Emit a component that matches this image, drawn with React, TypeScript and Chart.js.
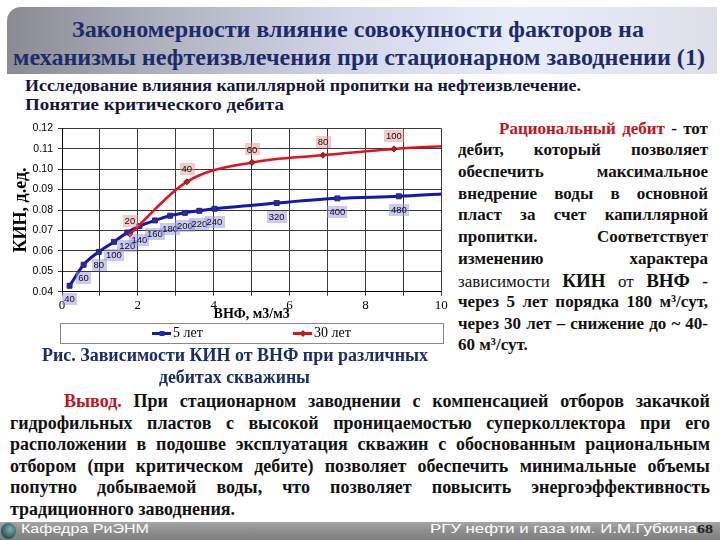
import React, { useEffect, useLayoutEffect, useRef } from 'react';
import { Chart, registerables } from 'chart.js';

Chart.register(...registerables);

// ---------------- data ----------------
const xTickLabels = ['0', '2', '4', '6', '8', '10'];
const yTickLabels = ['0.04', '0.05', '0.06', '0.07', '0.08', '0.09', '0.10', '0.11', '0.12'];

const series5Label = '5 лет';
const series5X = [0.2, 0.57, 0.97, 1.37, 1.72, 2.04, 2.45, 2.85, 3.24, 3.62, 4.02, 5.66, 7.26, 8.88, 10];
const series5Y = [0.0429, 0.0532, 0.0595, 0.0644, 0.069, 0.0721, 0.0749, 0.0772, 0.0786, 0.0796, 0.0806, 0.0834, 0.0857, 0.0867, 0.0878];
const series5Rates = ['40', '60', '80', '100', '120', '140', '160', '180', '200', '220', '240', '320', '400', '480', ''];

const series30Label = '30 лет';
const series30X = [1.79, 3.29, 5.01, 6.88, 8.75, 10];
const series30Y = [0.0682, 0.0938, 0.1033, 0.1068, 0.1099, 0.1112];
const series30Rates = ['20', '40', '60', '80', '100', ''];

const yAxisTitle = 'КИН, д.ед.';
const xAxisTitle = 'ВНФ, м3/м3';

const titleLines = [
  'Закономерности влияние совокупности факторов на',
  'механизмы нефтеизвлечения при стационарном заводнении (1)',
];
const subtitleLines = [
  'Исследование влияния капиллярной пропитки на нефтеизвлечение.',
  'Понятие критического дебита',
];
const captionLines = ['Рис. Зависимости КИН от ВНФ при различных', 'дебитах скважины'];

type Seg = { t: string; c?: string; b?: boolean; s?: number };
const RED = '#c2141c';

const rightLines: Seg[][] = [
  [{ t: 'Рациональный дебит', c: RED }, { t: '- тот' }],
  [{ t: 'дебит, который позволяет' }],
  [{ t: 'обеспечить максимальное' }],
  [{ t: 'внедрение воды в основной' }],
  [{ t: 'пласт за счет капиллярной' }],
  [{ t: 'пропитки. Соответствует' }],
  [{ t: 'изменению характера' }],
  [{ t: 'зависимости', b: false }, { t: 'КИН', s: 19 }, { t: 'от', b: false }, { t: 'ВНФ', s: 19 }, { t: '-' }],
  [{ t: 'через 5 лет порядка 180 м³/сут,' }],
  [{ t: 'через 30 лет – снижение до ~ 40-' }],
  [{ t: '60 м³/сут.' }],
];

const bottomLines: Seg[][] = [
  [{ t: 'Вывод.', c: RED }, { t: 'При стационарном заводнении с компенсацией отборов закачкой' }],
  [{ t: 'гидрофильных пластов с высокой проницаемостью суперколлектора при его' }],
  [{ t: 'расположении в подошве эксплуатация скважин с обоснованным рациональным' }],
  [{ t: 'отбором (при критическом дебите) позволяет обеспечить минимальные объемы' }],
  [{ t: 'попутно добываемой воды, что позволяет повысить энергоэффективность' }],
  [{ t: 'традиционного заводнения.' }],
];

const footerLeft = 'Кафедра РиЭНМ';
const footerRight = 'РГУ нефти и газа им. И.М.Губкина';
const pageNumber = '68';

// ---------------- styles ----------------
const SERIF = '"Liberation Serif", "Times New Roman", serif';
const SANS = '"Liberation Sans", Arial, sans-serif';
const NAVY = '#1c2b6b';
const BLUE = '#1616b0';
const REDLINE = '#e4101c';

function FitText(props: any) {
  const { x, y, w, size, weight = 'bold', color = '#000', family = SERIF, children } = props;
  const ref = useRef<HTMLDivElement>(null);
  useLayoutEffect(() => {
    const el = ref.current;
    if (!el) return;
    el.style.transform = 'none';
    const natural = el.getBoundingClientRect().width;
    if (natural > 0) el.style.transform = `scaleX(${w / natural})`;
  });
  return (
    <div
      ref={ref}
      style={{
        position: 'absolute', left: x, top: y, whiteSpace: 'nowrap', fontFamily: family,
        fontSize: size, fontWeight: weight, color, lineHeight: 1.2, transformOrigin: '0 0', width: 'max-content',
      }}
    >
      {children}
    </div>
  );
}

function JLine(props: any) {
  const { x, y, w, size, segs, justify = true } = props;
  const words: Seg[] = [];
  (segs as Seg[]).forEach((seg) =>
    seg.t.split(' ').filter(Boolean).forEach((t) => words.push({ ...seg, t }))
  );
  return (
    <div
      style={{
        position: 'absolute', left: x, top: y, width: w, display: 'flex', alignItems: 'baseline',
        justifyContent: justify ? 'space-between' : 'flex-start', columnGap: justify ? 0 : '0.25em',
        fontFamily: SERIF, fontSize: size, lineHeight: 1.2, whiteSpace: 'nowrap',
      }}
    >
      {words.map((wd, i) => (
        <span key={i} style={{ color: wd.c || '#111', fontWeight: wd.b === false ? 'normal' : 'bold', fontSize: wd.s || undefined }}>
          {wd.t}
        </span>
      ))}
    </div>
  );
}

const rateLabelSets = [series5Rates, series30Rates];
const rateLabelBg = ['rgba(150,150,230,0.5)', 'rgba(240,150,150,0.5)'];
const rateLabelDy = [13.5, -13];
const legendOffsets = [90, 231];
const legendShapes = ['rect', 'diamond'];

const rateLabelPlugin = {
  id: 'rateLabels',
  afterDatasetsDraw(chart: any) {
    const ctx = chart.ctx;
    ctx.save();
    ctx.font = `9.5px ${SANS}`;
    ctx.textAlign = 'center';
    ctx.textBaseline = 'middle';
    chart.data.datasets.forEach((_ds: any, i: number) => {
      const meta = chart.getDatasetMeta(i);
      const labels = rateLabelSets[i];
      meta.data.forEach((pt: any, j: number) => {
        const txt = labels[j];
        if (!txt) return;
        const cx = pt.x;
        const cy = pt.y + rateLabelDy[i];
        const tw = ctx.measureText(txt).width;
        ctx.fillStyle = rateLabelBg[i];
        ctx.fillRect(Math.round(cx - tw / 2 - 2), Math.round(cy - 6), Math.round(tw + 4), 12);
        ctx.fillStyle = '#111';
        ctx.fillText(txt, cx, cy + 0.5);
      });
    });
    ctx.restore();
  },
};

const legendBoxPlugin = {
  id: 'legendBox',
  afterDraw(chart: any) {
    const { ctx, chartArea: ca } = chart;
    const top = Math.round(ca.bottom + 31);
    const h = 20;
    const left = Math.round(ca.left - 2);
    const right = Math.round(ca.right + 1.7);
    ctx.save();
    ctx.strokeStyle = '#8a8a8a';
    ctx.lineWidth = 1;
    ctx.strokeRect(left + 0.5, top + 0.5, right - left, h);
    const cy = top + h / 2 + 0.5;
    chart.data.datasets.forEach((ds: any, i: number) => {
      const sx = ca.left + legendOffsets[i];
      ctx.strokeStyle = ds.borderColor;
      ctx.lineWidth = 3;
      ctx.beginPath();
      ctx.moveTo(sx, cy);
      ctx.lineTo(sx + 19, cy);
      ctx.stroke();
      const mx = sx + 10;
      ctx.fillStyle = ds.pointBackgroundColor;
      ctx.beginPath();
      if (legendShapes[i] === 'rect') ctx.rect(mx - 2.5, cy - 2.5, 5, 5);
      else {
        ctx.moveTo(mx, cy - 3.5); ctx.lineTo(mx + 3.5, cy); ctx.lineTo(mx, cy + 3.5); ctx.lineTo(mx - 3.5, cy); ctx.closePath();
      }
      ctx.fill();
      ctx.fillStyle = '#000';
      ctx.font = `14px ${SERIF}`;
      ctx.textAlign = 'left';
      ctx.textBaseline = 'middle';
      ctx.fillText(ds.label, sx + 21, cy);
    });
    ctx.restore();
  },
};

function KinChart() {
  const ref = useRef<HTMLCanvasElement>(null);
  useEffect(() => {
    if (!ref.current) return;
    const chart = new Chart(ref.current, {
      type: 'line',
      data: {
        datasets: [
          {
            label: series5Label,
            data: series5X.map((x, i) => ({ x, y: series5Y[i] })),
            borderColor: BLUE,
            borderWidth: 3,
            pointStyle: 'rect',
            pointRadius: series5X.map((_, i) => (series5Rates[i] ? 3.5 : 0)),
            pointBackgroundColor: '#2b2ba0',
            pointBorderColor: '#22228a',
            pointBorderWidth: 1,
            cubicInterpolationMode: 'monotone',
            order: 1,
          },
          {
            label: series30Label,
            data: series30X.map((x, i) => ({ x, y: series30Y[i] })),
            borderColor: REDLINE,
            borderWidth: 2.5,
            pointStyle: 'rectRot',
            pointRadius: series30X.map((_, i) => (series30Rates[i] ? 3 : 0)),
            pointBackgroundColor: '#b82020',
            pointBorderColor: '#8a1010',
            pointBorderWidth: 1,
            cubicInterpolationMode: 'monotone',
            order: 0,
          },
        ],
      },
      options: {
        responsive: false,
        animation: false,
        layout: { padding: { left: 0, top: 13.3, right: 8.7, bottom: 27.6 } },
        plugins: { legend: { display: false }, tooltip: { enabled: false } },
        scales: {
          x: {
            type: 'linear',
            min: 0,
            max: 10,
            afterFit: (s: any) => { s.height = 30.7; },
            ticks: {
              stepSize: 1,
              autoSkip: false,
              maxRotation: 0,
              padding: 2,
              color: '#000',
              font: { family: SERIF, size: 13 },
              callback: (v: any) => (xTickLabels.includes(String(v)) ? String(v) : ''),
            },
            grid: { color: '#3a3a3a', lineWidth: 1, tickLength: 4 },
            border: { color: '#000', width: 1 },
            title: { display: true, text: xAxisTitle, color: '#000', padding: 0, font: { family: SERIF, size: 14, weight: 'bold' } },
          },
          y: {
            type: 'linear',
            min: 0.04,
            max: 0.12,
            afterFit: (s: any) => { s.width = 62; },
            ticks: {
              stepSize: 0.01,
              padding: 5,
              color: '#000',
              font: { family: SANS, size: 10.5 },
              callback: (_v: any, i: number) => yTickLabels[i],
            },
            grid: { color: '#3a3a3a', lineWidth: 1, tickLength: 4 },
            border: { color: '#000', width: 1 },
            title: { display: true, text: yAxisTitle, color: '#000', padding: { top: 11, bottom: 0 }, font: { family: SERIF, size: 18, weight: 'bold' } },
          },
        },
      },
      plugins: [rateLabelPlugin, legendBoxPlugin],
    } as any);
    return () => chart.destroy();
  }, []);
  return <canvas ref={ref} width={450} height={235} style={{ position: 'absolute', left: 0, top: 115, width: 450, height: 235 }} />;
}

export default function App() {
  return (
    <div style={{ position: 'fixed', left: 0, top: 0, width: 720, height: 540, background: '#fff', overflow: 'hidden' }}>
      <div
        style={{
          position: 'absolute', left: 7, top: 7, width: 710, height: 67, borderTopLeftRadius: 14,
          background: 'linear-gradient(to right, #8a8a92 0%, #b0b2c0 22%, #d2d6e8 48%, #e8ecfa 72%, #dedfe8 100%)',
        }}
      />
      <FitText x={72} y={14.7} w={572} size={24} color={NAVY}>{titleLines[0]}</FitText>
      <FitText x={12.7} y={43} w={692} size={24} color={NAVY}>{titleLines[1]}</FitText>
      <FitText x={25} y={76.3} w={556} size={17} color="#15153a">{subtitleLines[0]}</FitText>
      <FitText x={25} y={94.7} w={259} size={17} color="#15153a">{subtitleLines[1]}</FitText>

      <KinChart />

      <FitText x={42} y={344.5} w={386} size={18} color={NAVY}>{captionLines[0]}</FitText>
      <FitText x={159} y={367.2} w={151} size={18} color={NAVY}>{captionLines[1]}</FitText>

      {rightLines.map((segs, k) => (
        <JLine
          key={k}
          x={k === 0 ? 499 : 458}
          y={130.7 + 21.67 * k - 12}
          w={k === 0 ? 209 : 250}
          size={17}
          segs={segs}
          justify={k !== rightLines.length - 1}
        />
      ))}

      {bottomLines.map((segs, k) => (
        <JLine
          key={k}
          x={k === 0 ? 64 : 10}
          y={404 + 21.5 * k - 12.8}
          w={k === 0 ? 646 : 700}
          size={18}
          segs={segs}
          justify={k !== bottomLines.length - 1}
        />
      ))}

      <div
        style={{
          position: 'absolute', left: 0, top: 522, width: 720, height: 18,
          background: 'linear-gradient(to bottom, #a6a6a6 0%, #8e8e8e 50%, #7e7e7e 100%)',
        }}
      />
      <div
        style={{
          position: 'absolute', left: 1, top: 523, width: 15, height: 16, borderRadius: '50%',
          background: 'radial-gradient(circle at 60% 40%, #7fb0b0 0%, #2f5f66 60%, #1e3038 100%)',
        }}
      />
      <FitText x={20.7} y={521} w={128} size={13} weight="normal" color="#fff" family={SANS}>{footerLeft}</FitText>
      <FitText x={430} y={521} w={267} size={13} weight="normal" color="#fff" family={SANS}>{footerRight}</FitText>
      <FitText x={697} y={521.8} w={16} size={12} color="#222">{pageNumber}</FitText>
    </div>
  );
}
